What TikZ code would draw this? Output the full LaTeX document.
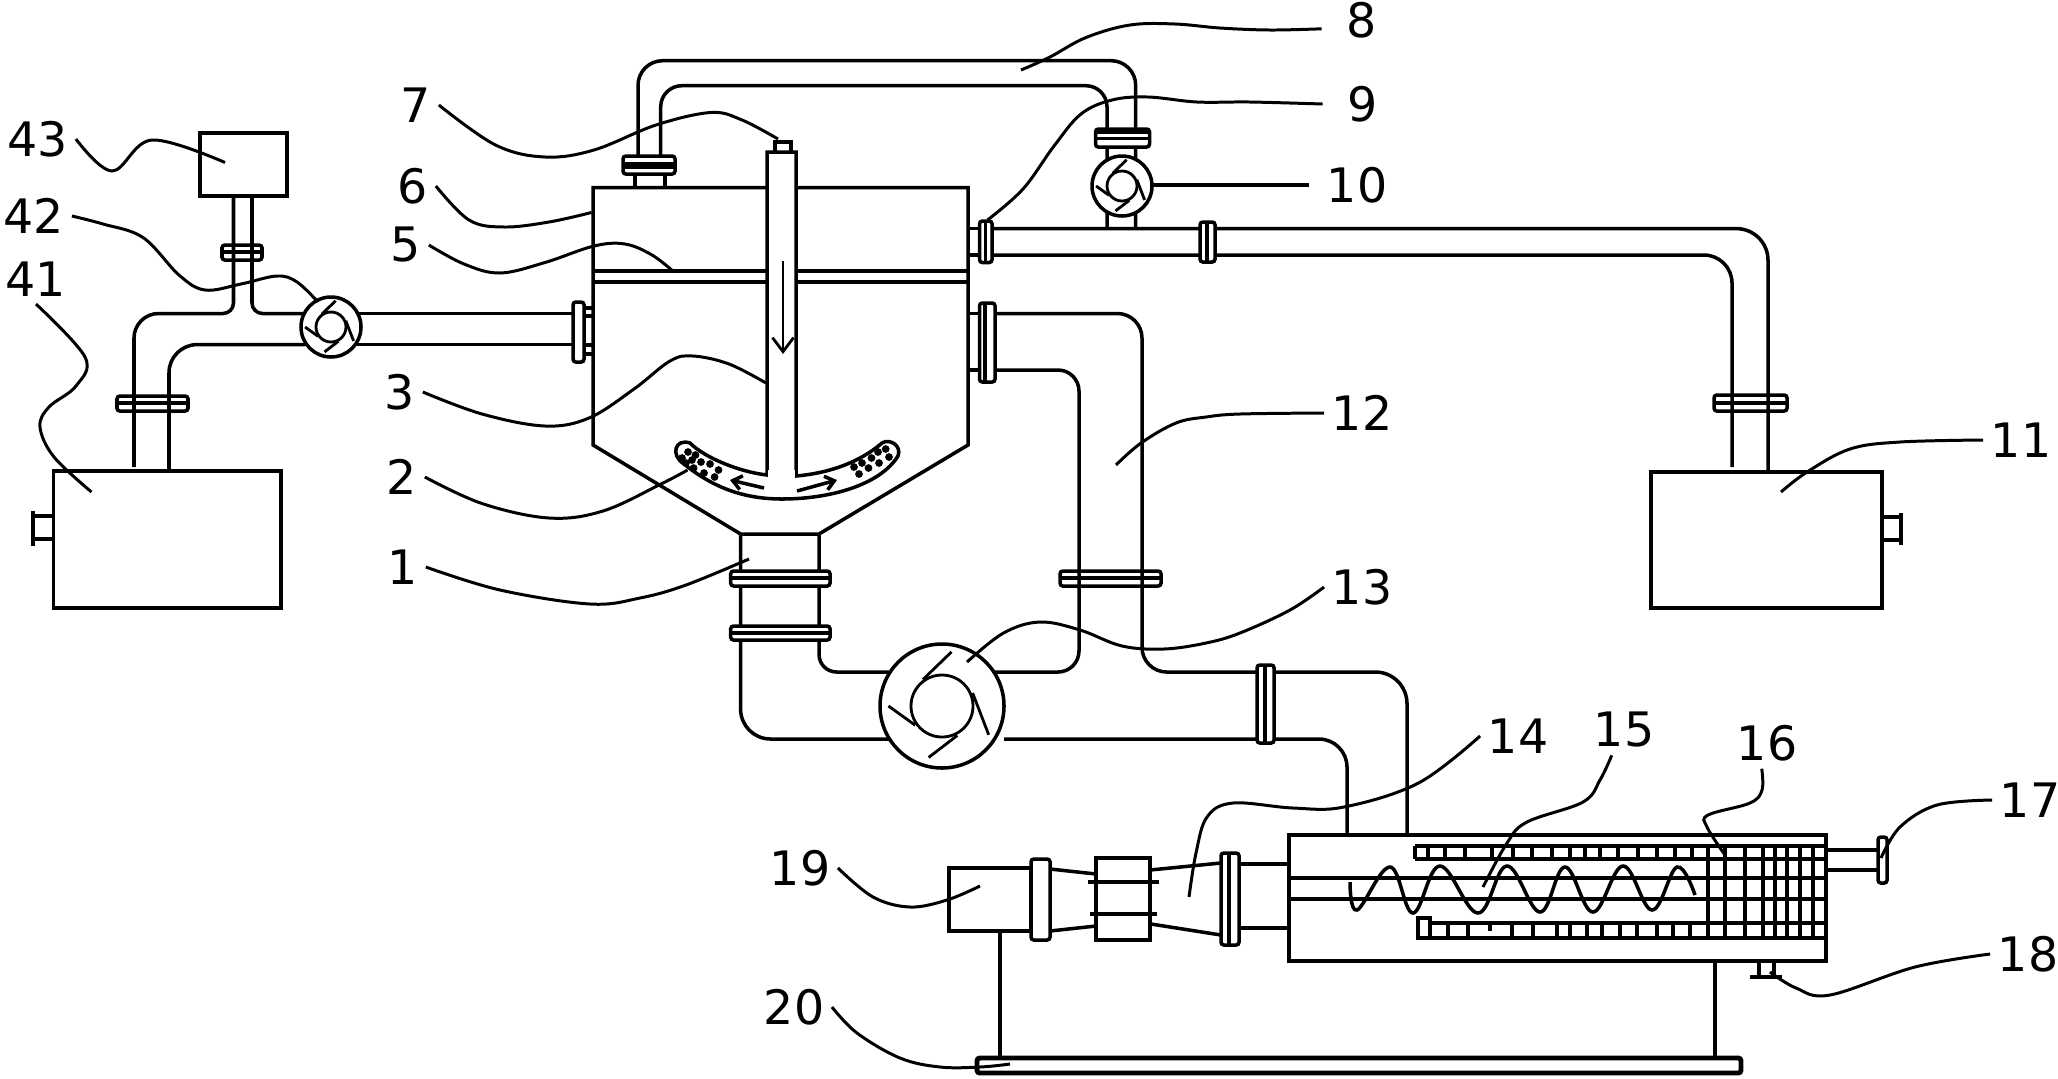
\documentclass[tikz,border=0pt]{standalone}
\usepackage{fontspec}
\setmainfont{DejaVu Sans}
\usetikzlibrary{arrows.meta}
\tikzset{>={Straight Barb[length=4pt,width=6pt]}}
\tikzstyle{num}=[inner sep=2pt,font=\fontsize{13.5}{14}\selectfont]
\tikzstyle{simple}=[-,draw=black,line width=1.000pt]
\tikzstyle{heavy}=[-,draw=black,line width=1.400pt]
\tikzstyle{fine}=[-,draw=black,line width=0.800pt]
\tikzstyle{leader}=[-,draw=black,line width=0.850pt,smooth,tension=0.6]
\tikzstyle{flange}=[draw=black,fill=white,line width=1.000pt,rounded corners=0.8pt]
\tikzset{pump/.pic={
	\draw [style=simple,fill=white] (0,0) circle (1);
	\draw [style=fine] (0,0) circle (0.5);
	\draw [style=fine] (0.154,-0.874) to (-0.309,-0.426);
	\draw [style=fine] (-0.864,0) to (-0.432,0.31);
	\draw [style=fine] (-0.216,0.83) to (0.247,0.475);
	\draw [style=fine] (0.753,0.464) to (0.494,-0.21);
}}
\pgfdeclarelayer{edgelayer}
\pgfdeclarelayer{nodelayer}
\pgfsetlayers{edgelayer,nodelayer,main}
\begin{document}
\begin{tikzpicture}[x=0.01cm,y=-0.01cm]
	\useasboundingbox (0,0) rectangle (2058,1078);
	\begin{pgfonlayer}{nodelayer}
		\node [style=num] (1) at (403, 567) {1};
		\node [style=num] (2) at (402, 477) {2};
		\node [style=num] (3) at (400, 392) {3};
		\node [style=num] (5) at (406, 245) {5};
		\node [style=num] (6) at (413, 186) {6};
		\node [style=num] (7) at (416, 105) {7};
		\node [style=num] (8) at (1362, 20) {8};
		\node [style=num] (9) at (1363, 104) {9};
		\node [style=num] (10) at (1357, 185) {10};
		\node [style=num] (11) at (2021, 440) {11};
		\node [style=num] (12) at (1362, 413) {12};
		\node [style=num] (13) at (1362, 587) {13};
		\node [style=num] (14) at (1518, 736) {14};
		\node [style=num] (15) at (1624, 730) {15};
		\node [style=num] (16) at (1767, 743) {16};
		\node [style=num] (17) at (2030, 800) {17};
		\node [style=num] (18) at (2028, 954) {18};
		\node [style=num] (19) at (800, 868) {19};
		\node [style=num] (20) at (794, 1007) {20};
		\node [style=num] (41) at (36, 279) {41};
		\node [style=num] (42) at (34, 216) {42};
		\node [style=num] (43) at (38, 139) {43};
	\end{pgfonlayer}
	\begin{pgfonlayer}{edgelayer}
		% left tanks and feed line
		\draw [style=simple] (200,133) rectangle (287,196);
		\draw [style=simple] (53.5,471) rectangle (281,608);
		\draw [style=simple] (53.5,516) -- (33,516) (53.5,539) -- (33,539) (33,511) -- (33,546);
		\draw [style=simple,rounded corners=7pt] (134,467) -- (134,313.5) -- (160,313.5);
		\draw [style=simple,rounded corners=3pt] (160,313.5) -- (233.5,313.5) -- (233.5,196);
		\draw [style=simple,rounded corners=3pt] (252,196) -- (252,313.5) -- (305,313.5);
		\draw [style=simple,rounded corners=8pt] (169,471) -- (169,344.6) -- (305,344.6);
		\draw [style=simple] (355,313.5) -- (573,313.5) (355,344.6) -- (573,344.6);
		\draw [style=simple] (584,308) -- (593,308) (584,316) -- (593,316) (584,345) -- (593,345) (584,354) -- (593,354);
		\draw [style=simple,rounded corners=0.8pt] (222,245) rectangle (262,260);
		\draw [style=simple] (222,252) -- (262,252);
		\draw [style=simple,rounded corners=0.8pt] (117,396) rectangle (188,411);
		\draw [style=simple] (117,403) -- (188,403);
		\draw [style=flange] (573,302) rectangle (584,362);
		\pic [scale=30] at (331,327) {pump};

		% vessel
		\draw [style=simple] (593,187.5) -- (968,187.5) -- (968,445) -- (819,534) -- (740.6,534) -- (593,445) -- cycle;
		\draw [style=simple] (593,271) -- (968,271);
		\draw [style=heavy] (593,282) -- (968,282);
		\draw [style=simple,fill=white] (767,475) -- (767,152) -- (796,152) -- (796,476) .. controls (830,473) and (860,462) .. (882,443) .. controls (890,438) and (902,446) .. (898,456) .. controls (880,485) and (830,499) .. (782,499) .. controls (740,499) and (710,485) .. (684,464) .. controls (670,455) and (675,438) .. (690,443) .. controls (705,458) and (740,472) .. (767,475) -- cycle;
		\fill [white] (768,470) rectangle (795,482);
		\draw [style=simple] (775,152) -- (775,142) -- (791,142) -- (791,152);
		\draw [style=fine,->] (783,261) -- (783,354);
		\draw [style=simple,-{Straight Barb[length=2.5pt,width=4pt]}] (764,488) -- (730,480);
		\draw [style=simple,-{Straight Barb[length=2.5pt,width=4pt]}] (797,491) -- (837,480);
		\foreach \p in {(688,452),(695.5,455),(682,458),(692,460),(701,462),(710,464),(693.6,468),(718.5,470),(704,473),(714.6,477),(686,463),(885.7,449),(878,452),(871.5,458),(889,457),(879,463),(862,463),(854,467),(868.5,468),(859,474)}
			\fill \p circle (1.1pt);

		% return line above the vessel
		\draw [style=simple] (635,174) -- (635,187.5) (665,174) -- (665,187.5);
		\draw [style=simple,rounded corners=7pt] (638,156) -- (638,60.7) -- (1135.7,60.7) -- (1135.7,228.6);
		\draw [style=simple,rounded corners=6pt] (660.7,156) -- (660.7,85.7) -- (1107,85.7) -- (1107,228.6);
		\draw [style=flange] (623,156) rectangle (675,174);
		\draw [style=simple] (623,163.6) -- (675,163.6) (623,167) -- (675,167);
		\draw [style=flange] (1095.5,129) rectangle (1149.5,147);
		\draw [style=simple] (1095.5,132) -- (1149.5,132) (1095.5,138.6) -- (1149.5,138.6);
		\pic [scale=30] at (1122,186) {pump};

		% right hand line and tank
		\draw [style=simple] (968,228.6) -- (979.5,228.6) (968,255) -- (979.5,255);
		\draw [style=simple,rounded corners=9pt] (992,228.6) -- (1768,228.6) -- (1768,471);
		\draw [style=simple,rounded corners=8pt] (992,255) -- (1732,255) -- (1732,467);
		\draw [style=flange] (979.5,221) rectangle (992,262.5);
		\draw [style=simple] (985.5,221) -- (985.5,262.5);
		\draw [style=flange] (1200,222) rectangle (1215,262);
		\draw [style=simple] (1207,222) -- (1207,262);
		\draw [style=simple,rounded corners=0.8pt] (1714,395) rectangle (1787,411);
		\draw [style=simple] (1714,403) -- (1787,403);
		\draw [style=simple] (1651,472) rectangle (1882,608);
		\draw [style=simple] (1882,517) -- (1901,517) (1882,540) -- (1901,540) (1901,513) -- (1901,545);

		% outlet of the vessel, large pump
		\draw [style=simple,rounded corners=8.5pt] (740.6,534) -- (740.6,739) -- (900,739);
		\draw [style=simple,rounded corners=5pt] (819,534) -- (819,672) -- (900,672);
		\draw [style=simple,rounded corners=6pt] (980,672) -- (1079,672) -- (1079,370) -- (995,370);
		\draw [style=simple,rounded corners=7pt] (995,313.5) -- (1142,313.5) -- (1142,672) -- (1257,672);
		\draw [style=simple] (968,313.5) -- (980,313.5) (968,370) -- (980,370);
		\draw [style=flange] (979.5,303) rectangle (995,382);
		\draw [style=simple] (985,303) -- (985,382);
		\draw [style=flange] (730.7,571) rectangle (830,586);
		\draw [style=simple] (730.7,578) -- (830,578);
		\draw [style=flange] (730.7,626) rectangle (830,640);
		\draw [style=simple] (730.7,633) -- (830,633);
		\draw [style=simple,rounded corners=0.8pt] (1060,571) rectangle (1161,586);
		\draw [style=simple] (1060,578) -- (1161,578);
		\pic [scale=62] at (942,706) {pump};

		% line into the housing
		\draw [style=simple,rounded corners=9pt] (1262,672) -- (1407,672) -- (1407,835);
		\draw [style=simple,rounded corners=8pt] (1004,739) -- (1347,739) -- (1347,835);
		\draw [style=flange] (1257,665) rectangle (1274,743);
		\draw [style=simple] (1265,665) -- (1265,743);

		% housing, screw and filter
		\draw [style=heavy] (1289,835) rectangle (1826,961);
		\draw [style=heavy] (1289,878) -- (1826,878) (1289,899) -- (1826,899);
		\draw [style=heavy] (1415,846) -- (1826,846) (1415,859) -- (1826,859) (1415,846) -- (1415,859);
		\draw [style=heavy] (1430,923) -- (1826,923) (1430,938) -- (1826,938);
		\draw [style=simple] (1418,918) rectangle (1430,938);
		\foreach \x in {1428,1445,1465,1492,1513,1532,1552,1570,1585,1600,1618,1638,1657,1675,1692}
			\draw [style=simple] (\x,846) -- (\x,859);
		\foreach \x in {1448,1468,1512,1533,1557,1570,1587,1602,1620,1637,1657,1673,1690}
			\draw [style=simple] (\x,923) -- (\x,938);
		\draw [style=simple] (1490,923) -- (1490,931);
		\foreach \x in {1708,1725,1745,1763,1775,1787,1800,1813}
			\draw [style=simple] (\x,846) -- (\x,938);
		\draw [style=simple,smooth,tension=0.65] plot coordinates {(1350,882) (1357,910) (1390,867) (1413,913) (1440,866) (1478,913) (1507,866) (1540,912) (1565,867) (1593,912) (1623,866) (1652,910) (1677,867) (1695,895)};
		\draw [style=simple] (1826,850) -- (1878,850) (1826,870) -- (1878,870);
		\draw [style=flange] (1878,837) rectangle (1887,883);
		\draw [style=simple] (1759,961) -- (1759,977) (1774,961) -- (1774,977);
		\draw [style=heavy] (1750,977) -- (1782,977);

		% inlet side of the housing
		\draw [style=simple] (1239,864) -- (1289,864) (1239,928) -- (1289,928);
		\draw [style=flange] (1221,853) rectangle (1239,945);
		\draw [style=simple] (1229,853) -- (1229,945);
		\draw [style=simple] (1150,870) -- (1221,863) (1151,924) -- (1221,935);
		\draw [style=simple] (1096,858) rectangle (1150,940);
		\draw [style=simple] (1088,882) -- (1159,882) (1090,914) -- (1157,914);
		\draw [style=simple] (1050,869) -- (1096,874) (1050,931) -- (1096,926);
		\draw [style=simple] (949,868) rectangle (1031,931);
		\draw [style=heavy] (949,868) -- (1031,868);
		\draw [style=flange] (1031,859) rectangle (1050,940);

		% base
		\draw [style=simple] (1000,931) -- (1000,1058) (1715,961) -- (1715,1058);
		\draw [style=heavy,rounded corners=0.8pt] (977,1058) rectangle (1741,1073);
	\end{pgfonlayer}

	\draw [style=leader] plot coordinates {(1.east) (500,590) (590,604) (640,598) (686,585) (749,559)};
	\draw [style=leader] plot coordinates {(2.east) (482,503.5) (549,518) (603,511) (661,484) (687.5,470)};
	\draw [style=leader] plot coordinates {(3.east) (482,414) (545,426) (589,418) (634,389) (670,361) (693,356) (729,364) (766,383)};
	\draw [style=leader] plot coordinates {(5.east) (464,264) (500,273) (545,262.5) (594,246) (625,244) (652,255) (674,272)};
	\draw [style=leader] plot coordinates {(6.east) (469,220) (504,227) (549,222) (591.5,212.5)};
	\draw [style=leader] plot coordinates {(7.east) (495.5,145) (545,157) (594,150) (656,125) (711,112.5) (742,120) (778,139)};
	\draw [style=leader] plot coordinates {(1021,70) (1050,57) (1086,37.5) (1130,25) (1175,24) (1220,28) (1270,30) ([xshift=-5pt,yshift=-2.5pt]8.west)};
	\draw [style=leader] plot coordinates {(987.5,220) (1023,189) (1054,146) (1081,114) (1112,100) (1148,97) (1197,102) (1250,102) ([xshift=-5pt]9.west)};
	\draw [style=simple] (1152,185) -- ([xshift=-3pt]10.west);
	\draw [style=leader] plot coordinates {(1781,492) (1807,472) (1850,449) (1900,442) (11.west)};
	\draw [style=leader] plot coordinates {(1116,465) (1141,443) (1176,423) (1206,417) (1240,414) (12.west)};
	\draw [style=leader] plot coordinates {(967,662) (1003.5,633) (1040,622) (1080,630) (1122,646) (1164,649) (1206,643) (1240,633) (1290,610) (13.west)};
	\draw [style=leader] plot coordinates {(14.west) (1418.5,783) (1344,807) (1293,808) (1233,803) (1207,817) (1196,853) (1189,897)};
	\draw [style=leader] plot coordinates {([xshift=-3.5pt]15.south) (1600,780) (1583,802) (1527,822) (1507,843) (1483,887)};
	\draw [style=leader] plot coordinates {([xshift=-1.5pt]16.south) (1762,790) (1750,803) (1708,815) (1707,827) (1725,855)};
	\draw [style=leader] plot coordinates {(17.west) (1937,805) (1900,827) (1881,858)};
	\draw [style=leader] plot coordinates {(18.west) (1915,967) (1830,995) (1796,988) (1770,972)};
	\draw [style=leader] plot coordinates {(19.east) (873,897) (910,907) (947,900) (980,886)};
	\draw [style=leader] plot coordinates {(20.east) (857,1033) (900,1058) (940,1067) (980,1067) (1010,1064)};
	\draw [style=leader] plot coordinates {(41.south) (85,357) (76,386) (49,407) (40,427) (54,457) (91.5,492)};
	\draw [style=leader] plot coordinates {(42.east) (103,224) (143,237.5) (179,275) (205,290) (241,284) (277,276) (297,282) (318,302)};
	\draw [style=leader] plot coordinates {(43.east) (112,171) (152,140) (225,162.5)};
\end{tikzpicture}
\end{document}
